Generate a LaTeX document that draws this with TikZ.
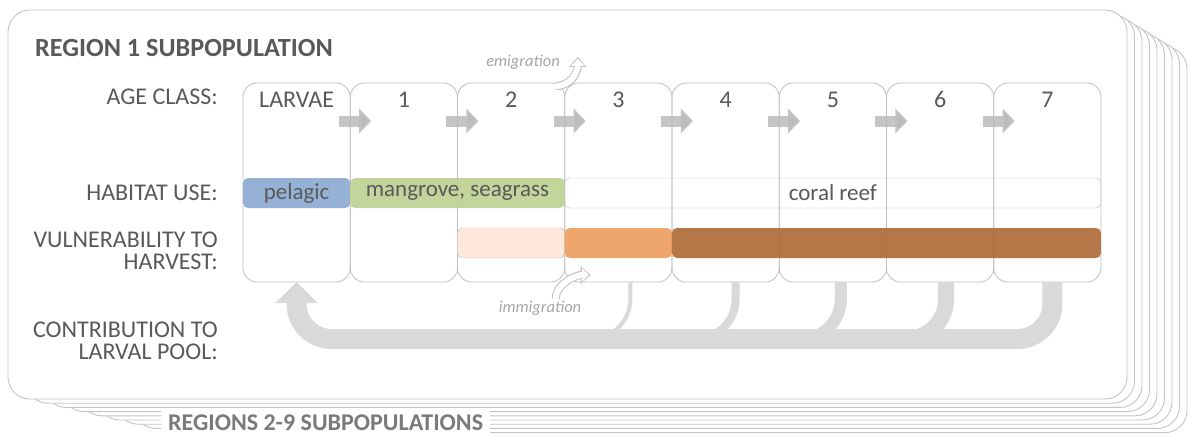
\documentclass[tikz,border=0pt]{standalone}
\usepackage{fontspec}
\setmainfont{Carlito}
\usetikzlibrary{arrows.meta,positioning}

\definecolor{txtgray}{HTML}{595959}
\definecolor{linegray}{HTML}{BFBFBF}
\definecolor{cardgray}{HTML}{C4C4C4}
\definecolor{arrowgray}{HTML}{BCBCBC}
\definecolor{bandgray}{HTML}{D9D9D9}
\definecolor{migray}{HTML}{A6A6A6}
\definecolor{pelagic}{HTML}{8AAAD2}
\definecolor{mangrove}{HTML}{BCD190}
\definecolor{lowharv}{HTML}{FDE6D5}
\definecolor{midharv}{HTML}{EE9D5E}
\definecolor{highharv}{HTML}{AD6934}

\begin{document}
\begin{tikzpicture}[x=1pt,y=-1pt,
    card/.style={draw=cardgray,fill=white,line width=0.9pt,rounded corners=22pt},
    agecol/.style={draw=linegray,line width=0.8pt,rounded corners=14pt,
      minimum width=107.25pt,inner xsep=0pt,inner ysep=10pt,outer sep=0pt,
      text height=14pt,text depth=165pt,
      font=\fontsize{24}{26}\selectfont,text=txtgray},
    rowlabel/.style={anchor=east,align=right,inner sep=0pt,
      font=\fontsize{24}{22}\selectfont,text=txtgray},
    bar/.style={minimum height=30pt,inner sep=0pt,rounded corners=5pt,
      fill opacity=0.9,text opacity=1,
      font=\fontsize{23}{24}\selectfont,text=txtgray},
    stagearrow/.style={draw=arrowgray,line width=11pt,draw opacity=0.85,
      -{Triangle[length=12pt,width=24pt]}},
    poolband/.style={draw=bandgray,line width=20pt,rounded corners=35pt},
    migrate/.style={draw=linegray,line width=8pt,
      -{Triangle[length=10pt,width=17pt]},
      postaction={draw=white,line width=6pt,shorten >=1.7pt,
        -{Triangle[length=7.2pt,width=13.5pt]}}},
    migtext/.style={font=\itshape\fontsize{16.5}{18}\selectfont,text=migray}]

  \useasboundingbox (0,0) rectangle (1194,436);

  % stack of the other regions
  \foreach \k in {8,7,...,1}
    \draw[card] (8+18*\k,10+4.6*\k) rectangle (1127+7.5*\k,399+4.2*\k);
  \draw[card] (8,10) rectangle (1127,399);

  \node[anchor=base west,inner sep=0pt,text=txtgray,
        font=\bfseries\fontsize{26.2}{28}\selectfont] (title) at (35,57)
        {REGION 1 SUBPOPULATION};
  \node[anchor=base west,fill=white,inner xsep=7pt,inner ysep=4pt,
        text=txtgray!80,font=\bfseries\fontsize{24}{26}\selectfont] (others)
        at (161,430.5) {REGIONS 2-9 SUBPOPULATIONS};

  % row labels
  \node[rowlabel] (lage) at (218,97) {AGE CLASS:};
  \node[rowlabel] (lhab) at (218,193) {HABITAT USE:};
  \node[rowlabel] (lvul) at (218,251) {VULNERABILITY TO\\HARVEST:};
  \node[rowlabel] (lpool) at (218,341) {CONTRIBUTION TO\\LARVAL POOL:};

  % age classes
  \node[agecol] (c0) at (296.6,182.5) {LARVAE};
  \node[agecol,right=0pt of c0] (c1) {1};
  \node[agecol,right=0pt of c1] (c2) {2};
  \node[agecol,right=0pt of c2] (c3) {3};
  \node[agecol,right=0pt of c3] (c4) {4};
  \node[agecol,right=0pt of c4] (c5) {5};
  \node[agecol,right=0pt of c5] (c6) {6};
  \node[agecol,right=0pt of c6] (c7) {7};

  % habitat use
  \node[bar,fill=pelagic,minimum width=107.25pt] (pel) at (c0 |- 0,193) {pelagic};
  \node[bar,fill=mangrove,minimum width=214.5pt] (mang) at (c1.east |- 0,193)
        {mangrove, seagrass};
  \node[bar,draw=linegray,minimum width=536.25pt] (reef) at (c5 |- 0,193) {coral reef};

  % vulnerability to harvest
  \node[bar,fill=lowharv,draw=linegray,minimum width=107.25pt] (vlow) at (c2 |- 0,243) {};
  \node[bar,fill=midharv,minimum width=107.25pt] (vmid) at (c3 |- 0,243) {};
  \node[bar,fill=highharv,minimum width=429pt] (vhigh) at (c5.east |- 0,243) {};

  \foreach \i in {0,...,6}
    \draw[stagearrow] ([shift={(-11,38)}]c\i.north east)
                   -- ([shift={(21,38)}]c\i.north east);

  % larval pool
  \foreach \c/\w/\s in {3/4/12,4/8/10,5/12/8,6/16/6}
    \draw[poolband,line width=\w pt,rounded corners=40pt]
      ([xshift=\s pt]c\c.south) |- ([shift={(-70,57)}]c\c.south);
  \draw[poolband,-{Triangle[length=21pt,width=41pt]}]
    ([xshift=5pt]c7.south) |- ([shift={(0,57)}]c0.south) -- (c0.south);

  % migration
  \coordinate (emi0) at ([shift={(-9,3)}]c2.north east);
  \coordinate (emi1) at ([shift={(13,-26)}]c2.north east);
  \coordinate (imm0) at ([shift={(-9,17)}]c2.south east);
  \coordinate (imm1) at ([shift={(26,-7)}]c2.south east);
  \draw[migrate] (emi0) .. controls +(16,0) and +(0,14) .. (emi1);
  \draw[migrate] (imm0) .. controls +(0,-16) and +(-14,0) .. (imm1);
  \node[migtext] (emitxt) at (523,62) {emigration};
  \node[migtext] (immtxt) at (540,308) {immigration};

\end{tikzpicture}
\end{document}
